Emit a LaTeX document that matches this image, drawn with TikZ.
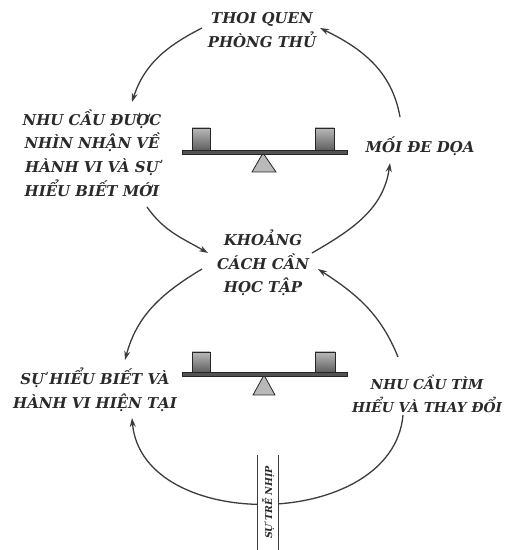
\documentclass[tikz,border=0pt]{standalone}
\usepackage{fontspec}
\setmainfont{DejaVu Serif}
\usetikzlibrary{arrows.meta,calc}
\definecolor{ink}{HTML}{2A2A2A}
\definecolor{linecol}{HTML}{3C3C3C}
\tikzset{
  lbl/.style={align=center, text=ink, inner sep=0pt,
    font=\fontsize{15}{23.7}\selectfont\bfseries\itshape},
  lblsmall/.style={lbl, font=\fontsize{13.8}{23.7}\selectfont\bfseries\itshape},
  conn/.style={draw=linecol, line width=1.3bp, -{Stealth[length=9bp,width=6bp]}},
  beam/.style={draw=black!85, fill=gray!65!black, line width=0.6bp},
  weight/.style={draw=black!85, top color=gray!55, bottom color=gray!75!black, line width=0.6bp},
  pivot/.style={draw=black!85, fill=gray!55, line width=0.8bp},
  delaybox/.style={fill=white, minimum width=21bp, minimum height=95bp, inner sep=0pt},
  delaytext/.style={rotate=90, text=ink, inner sep=0pt, font=\fontsize{9.5}{10}\selectfont\bfseries\itshape},
}
\begin{document}
\begin{tikzpicture}[x=1bp,y=1bp]
\useasboundingbox (0,0) rectangle (507,550);
% text nodes
\node[lbl] (A) at (262,520) {THOI QUEN\\PHÒNG THỦ};
\node[lbl] (B) at (92,397) {NHU CẦU ĐƯỢC\\NHÌN NHẬN VỀ\\HÀNH VI VÀ SỰ\\HIỂU BIẾT MỚI};
\node[lbl] (C) at (420,404) {MỐI ĐE DỌA};
\node[lbl] (D) at (263,287) {KHOẢNG\\CÁCH CẦN\\HỌC TẬP};
\node[lbl] (E) at (95,160) {SỰ HIỂU BIẾT VÀ\\HÀNH VI HIỆN TẠI};
\node[lblsmall] (F) at (427,156) {NHU CẦU TÌM\\HIỂU VÀ THAY ĐỔI};
% seesaw 1
\draw[pivot] (252,378) -- (263,397) -- (276,378) -- cycle;
\draw[beam] (182,396) rectangle (347,400);
\draw[weight] (192,400) rectangle (210,422);
\draw[weight] (315,400) rectangle (334,422);
% seesaw 2
\draw[pivot] (253,155) -- (264,175) -- (275,155) -- cycle;
\draw[beam] (182,174) rectangle (347,178);
\draw[weight] (192,178) rectangle (210,198);
\draw[weight] (315,178) rectangle (335,198);
% connectors
\draw[conn] ([shift={(-60,2)}]A.center) to[out=207,in=72] ([shift={(40,51)}]B.center);
\draw[conn] ([shift={(-20,29)}]C.center) to[out=100,in=334] ([shift={(58,2)}]A.center);
\draw[conn] ([shift={(55,-54)}]B.center) to[out=-55,in=150] ([shift={(-55,10)}]D.center);
\draw[conn] ([shift={(49,10)}]D.center) to[out=30,in=262] ([shift={(-30,-17)}]C.center);
\draw[conn] ([shift={(-61,-6)}]D.center) to[out=211,in=75] ([shift={(30,30)}]E.center);
\draw[conn] ([shift={(-29,37)}]F.center) to[out=112,in=327] ([shift={(55,-6)}]D.center);
\draw[conn] ([shift={(-24,-21)}]F.center) to[out=265,in=275,looseness=1.1] ([shift={(37,-28)}]E.center);
% delay mark
\node[delaybox] (G) at (268,47.5) {};
\node[delaytext] (H) at (268,47.5) {SỰ TRỄ NHỊP};
\draw[linecol, line width=1.2bp] (G.north west) -- (G.south west);
\draw[linecol, line width=1.2bp] (G.north east) -- (G.south east);
\end{tikzpicture}
\end{document}
